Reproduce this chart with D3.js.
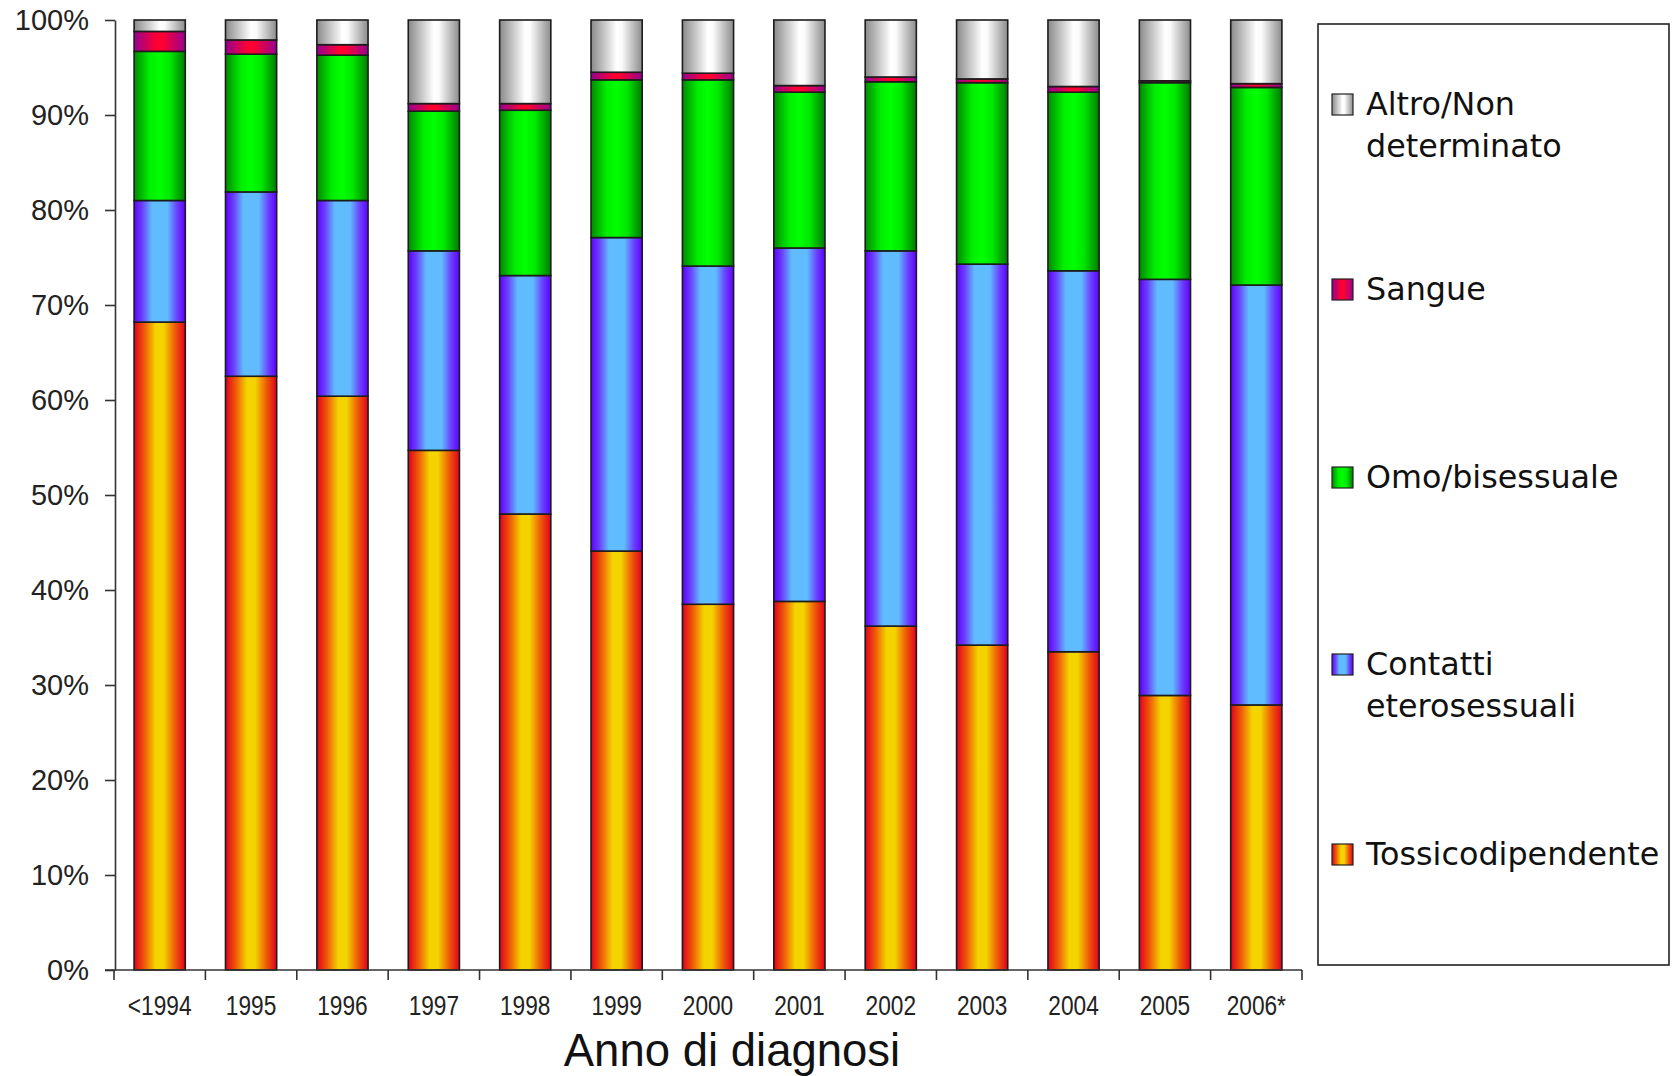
<!DOCTYPE html>
<html><head><meta charset="utf-8">
<script src="https://cdn.jsdelivr.net/npm/d3@7"></script>
<style>body{margin:0;background:#fff}</style>
</head><body>
<svg id="chart" width="1675" height="1076"></svg>
<script>
// ---- data (percent of cases per year, bottom to top) ----
const categories = ["<1994","1995","1996","1997","1998","1999","2000","2001","2002","2003","2004","2005","2006*"];
const tossicodipendente = [68.2, 62.5, 60.4, 54.7, 48.0, 44.1, 38.5, 38.8, 36.2, 34.2, 33.5, 28.9, 27.9];
const contattiEtero     = [12.8, 19.4, 20.6, 21.0, 25.1, 33.0, 35.6, 37.2, 39.5, 40.1, 40.1, 43.8, 44.2];
const omoBisessuale     = [15.7, 14.5, 15.3, 14.7, 17.4, 16.6, 19.6, 16.4, 17.8, 19.1, 18.8, 20.7, 20.8];
const sangue            = [ 2.1,  1.5,  1.1,  0.8,  0.7,  0.8,  0.7,  0.7,  0.5,  0.4,  0.6,  0.2,  0.4];
const altroNonDet       = [ 1.2,  2.1,  2.6,  8.8,  8.8,  5.5,  5.6,  6.9,  6.0,  6.2,  7.0,  6.4,  6.7];
const seriesKeys   = ["tox","etero","omo","sangue","altro"];
const seriesLabels = [["Tossicodipendente"],["Contatti","eterosessuali"],["Omo/bisessuale"],["Sangue"],["Altro/Non","determinato"]];
const yTickValues  = [0,10,20,30,40,50,60,70,80,90,100];
const xAxisTitle   = "Anno di diagnosi";

// ---- layout ----
const svg = d3.select("#chart");
const plotLeft = 115, plotRight = 1302, plotTop = 20, plotBottom = 970;

const rows = categories.map((c,i)=>({cat:c, tox:tossicodipendente[i], etero:contattiEtero[i], omo:omoBisessuale[i], sangue:sangue[i], altro:altroNonDet[i]}));
const stacked = d3.stack().keys(seriesKeys)(rows);

const x = d3.scaleBand().domain(categories).range([114, plotRight]).paddingInner(0.44).paddingOuter(0.22);
const y = d3.scaleLinear().domain([0,100]).range([plotBottom, plotTop]);

// gradients
const gradStops = {
  tox:   [[0,"#e2001e"],[0.2,"#ee5a08"],[0.42,"#f4d400"],[0.58,"#f4d400"],[0.8,"#ee5a08"],[1,"#e2001e"]],
  etero: [[0,"#5e00ff"],[0.16,"#6a40ff"],[0.35,"#60bcff"],[0.65,"#60bcff"],[0.84,"#6a40ff"],[1,"#5e00ff"]],
  omo:   [[0,"#008a00"],[0.3,"#00ee00"],[0.5,"#00ff00"],[0.7,"#00e800"],[1,"#007a00"]],
  sangue:[[0,"#980090"],[0.45,"#ff0030"],[0.55,"#ff0030"],[1,"#980090"]],
  altro: [[0,"#8a8a8a"],[0.5,"#ffffff"],[0.6,"#fbfbfb"],[1,"#8c8c8c"]]
};
const defs = svg.append("defs");
seriesKeys.forEach(k=>{
  const g = defs.append("linearGradient").attr("id","g-"+k).attr("x1","0").attr("x2","1").attr("y1","0").attr("y2","0");
  gradStops[k].forEach(s=>g.append("stop").attr("offset",s[0]).attr("stop-color",s[1]));
});

// bars
svg.append("g").selectAll("g").data(stacked).join("g")
  .attr("fill",d=>`url(#g-${d.key})`)
  .selectAll("rect").data(d=>d).join("rect")
  .attr("x",d=>x(d.data.cat))
  .attr("width",x.bandwidth())
  .attr("y",d=>y(d[1]))
  .attr("height",d=>y(d[0])-y(d[1]))
  .attr("stroke","#1c1c1c").attr("stroke-width",1.6);

// y axis
const yAxis = svg.append("g").attr("transform",`translate(${plotLeft},0)`)
  .call(d3.axisLeft(y).tickValues(yTickValues).tickFormat(d=>d+"%").tickSize(10).tickSizeOuter(0).tickPadding(16));
yAxis.select(".domain").attr("stroke","#333").attr("stroke-width",1.6);
yAxis.selectAll(".tick line").attr("stroke","#333").attr("stroke-width",1.6);
yAxis.selectAll("text").attr("font-family","'Liberation Sans', Arial, sans-serif").attr("font-size",29).attr("fill","#222");

// x axis
const xAxis = svg.append("g").attr("transform",`translate(0,${plotBottom})`)
  .call(d3.axisBottom(x).tickSize(0).tickPadding(26));
xAxis.select(".domain").remove();
xAxis.selectAll("text").attr("font-family","'Liberation Sans', Arial, sans-serif").attr("font-size",27).attr("fill","#222")
  .each(function(){ const L=this.getComputedTextLength(); d3.select(this).attr("textLength",L*0.84).attr("lengthAdjust","spacingAndGlyphs"); });
svg.append("line").attr("x1",105).attr("x2",plotRight).attr("y1",plotBottom).attr("y2",plotBottom).attr("stroke","#333").attr("stroke-width",1.6);
const step = x.step();
svg.append("g").selectAll("line").data(d3.range(categories.length+1)).join("line")
  .attr("x1",i=>x(categories[0]) + x.bandwidth()/2 - step/2 + i*step)
  .attr("x2",i=>x(categories[0]) + x.bandwidth()/2 - step/2 + i*step)
  .attr("y1",plotBottom).attr("y2",plotBottom+10).attr("stroke","#333").attr("stroke-width",1.6);

svg.append("text").attr("x",732).attr("y",1066).attr("text-anchor","middle")
  .attr("font-family","'Liberation Sans', Arial, sans-serif").attr("font-size",45.5).attr("fill","#111").text(xAxisTitle);

// legend
svg.append("rect").attr("x",1318).attr("y",24).attr("width",351).attr("height",941)
  .attr("fill","#fff").attr("stroke","#222").attr("stroke-width",1.6);
const legendOrder = [4,3,2,1,0];
const legendBaselines = [115, 300, 488, 675, 865];
const lg = svg.append("g").selectAll("g").data(legendOrder).join("g")
  .attr("transform",(d,i)=>`translate(1332,${legendBaselines[i]})`);
lg.append("rect").attr("x",0).attr("y",-21).attr("width",21).attr("height",21)
  .attr("fill",d=>`url(#g-${seriesKeys[d]})`).attr("stroke","#222").attr("stroke-width",1.2);
lg.append("text").attr("x",34).attr("font-family","'DejaVu Sans', Verdana, sans-serif").attr("font-size",31.8).attr("fill","#111")
  .selectAll("tspan").data(d=>seriesLabels[d]).join("tspan")
  .attr("x",34).attr("dy",(d,i)=>i===0?0:42).text(d=>d);
</script>
</body></html>
